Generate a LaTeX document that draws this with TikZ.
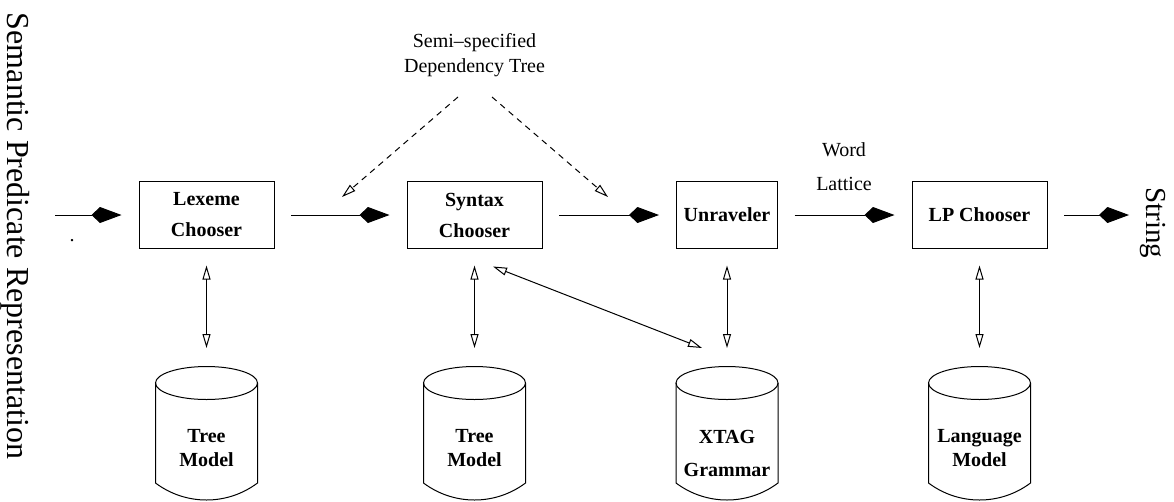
\documentclass[tikz,border=0pt]{standalone}
\usepackage{fontspec}
\setmainfont{Liberation Serif}
\usetikzlibrary{arrows.meta,calc}
\newcommand\dbcyl[2]{%
  \node[cylarea] (#1) at (#2,433) {};
  \draw (#2,383) ellipse [x radius=51pt, y radius=16.5pt];
  \draw (#2-51,383) -- (#2-51,483) arc[start angle=233.13, end angle=306.87, radius=85pt] -- (#2+51,383);
}
\begin{document}
\begin{tikzpicture}[x=1pt,y=-1pt,line width=1pt,
  box/.style={draw, minimum width=135pt, minimum height=67pt, inner sep=0pt,
    font=\bfseries\fontsize{20}{31}\selectfont, align=center},
  cylarea/.style={minimum width=102pt, minimum height=134pt, inner sep=0pt, outer sep=0pt},
  dblabel/.style={font=\bfseries\fontsize{20}{23.5}\selectfont, align=center, inner sep=0pt},
  plain/.style={font=\fontsize{20}{25}\selectfont, align=center, inner sep=0pt},
  flow/.style={-{Kite[length=30pt,width=16pt,inset=8.5pt]}, shorten <=16.5pt, shorten >=17pt},
  link/.style={{Triangle[open,length=14pt,width=8pt]}-{Triangle[open,length=14pt,width=8pt]}},
  hint/.style={dashed, dash pattern=on 6pt off 5pt, -{Triangle[open,length=14pt,width=8pt]}}
]
\useasboundingbox (0,0) rectangle (1174,501);

% process boxes
\node[box] (lex) at (206.5,215) {Lexeme\\Chooser};
\node[box] (syn) at (474.5,215) {Syntax\\Chooser};
\node[box, minimum width=101pt] (unr) at (727,215) {Unraveler};
\node[box] (lp) at (979.5,215) {LP Chooser};

% databases
\dbcyl{db1}{206.5}
\dbcyl{db2}{474.5}
\dbcyl{db3}{727}
\dbcyl{db4}{979.5}
\node[dblabel] (t1) at (206.5,448) {Tree\\Model};
\node[dblabel] (t2) at (474.5,448) {Tree\\Model};
\node[dblabel, font=\bfseries\fontsize{20}{33}\selectfont] (t3) at (727,453) {XTAG\\Grammar};
\node[dblabel] (t4) at (979.5,448) {Language\\Model};

% side labels
\node[rotate=-90, anchor=base, font=\fontsize{32}{38}\selectfont] (spr) at (7,236) {Semantic Predicate Representation};
\node[rotate=-90, anchor=base, font=\fontsize{29}{34}\selectfont] (str) at (1146,223) {String};
\node[plain, anchor=base] (dot) at (72,241) {.};
\node[plain] (semi) at (474.5,55) {Semi--specified\\Dependency Tree};
\node[plain, font=\fontsize{20}{34}\selectfont] (wl) at (844,167) {Word\\Lattice};

% flow arrows
\coordinate (in) at (55,215);
\coordinate (out) at (1129,215);
\draw[flow, shorten <=0pt] (in) -- (lex);
\draw[flow] (lex) -- (syn);
\draw[flow] (syn) -- (unr);
\draw[flow] (unr) -- (lp);
\draw[flow, shorten >=0pt] (lp) -- (out);

% resource links
\draw[link, shorten <=16.5pt, shorten >=18pt] (lex.south) -- (db1.north);
\draw[link, shorten <=16.5pt, shorten >=18pt] (syn.south) -- (db2.north);
\draw[link, shorten <=16.5pt, shorten >=18pt] (unr.south) -- (db3.north);
\draw[link, shorten <=16.5pt, shorten >=18pt] (lp.south) -- (db4.north);
\draw[link] ($(syn.south)+(18.5,17.5)$) -- ($(db3.north)+(-25,-18)$);

% dashed hints
\coordinate (hl0) at (458,97);
\coordinate (hr0) at (492,97);
\coordinate (hl1) at (342,197);
\coordinate (hr1) at (608,197);
\draw[hint] (hl0) -- (hl1);
\draw[hint] (hr0) -- (hr1);
\end{tikzpicture}
\end{document}
